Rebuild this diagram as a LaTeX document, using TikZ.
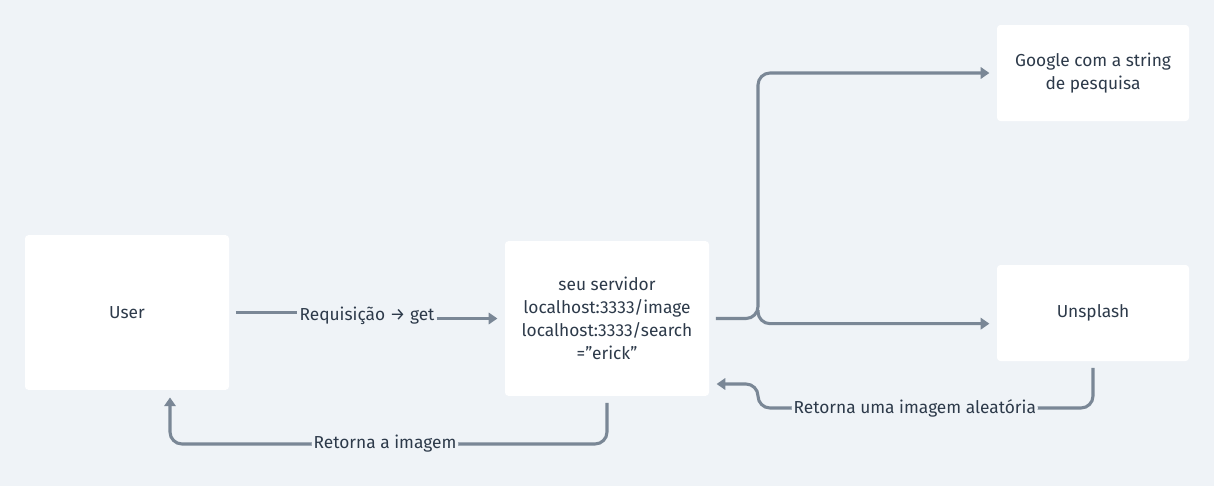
\documentclass[tikz,border=0pt]{standalone}
\usepackage{fontspec}
\setmainfont{Fira Sans}
\usepackage{tikz}
\usetikzlibrary{calc, positioning, arrows.meta}
\definecolor{fundo}{HTML}{EFF3F7}
\definecolor{cinza}{HTML}{7A8796}
\definecolor{texto}{HTML}{2D3A4A}
\tikzset{
	caixa/.style={fill=white, rounded corners=2.5pt, align=center, text=texto, font=\fontsize{13}{17.25}\selectfont},
	linha/.style={cinza, line width=2.3pt, rounded corners=9pt, shorten <=5pt},
	seta/.style={linha, -{Triangle[length=6.5pt, width=8.5pt]}, shorten >=5.5pt},
	rotulo/.style={fill=fundo, text=texto, inner xsep=1.5pt, inner ysep=2pt, font=\fontsize{13}{15}\selectfont}
}
\begin{document}
\begin{tikzpicture}[x=0.75pt, y=-0.75pt]
	%Fundo
	\fill[fundo] (0,0) rectangle (1214,486);
	\useasboundingbox (0,0) rectangle (1214,486);
	
	%Caixas
	\node[caixa, minimum width=153pt, minimum height=116pt] (user) at (127,312.5) {User};
	\node[caixa, minimum width=153pt, minimum height=116pt] (servidor) at (607,318.5) {seu servidor\\localhost:3333/image\\localhost:3333/search\\=''erick''};
	\node[caixa, minimum width=144pt, minimum height=72pt] (google) at (1093,73) {Google com a string\\de pesquisa};
	\node[caixa, minimum width=144pt, minimum height=72pt] (unsplash) at (1093,313) {Unsplash};
	
	%Requisicao
	\node[rotulo] (req) at (367,316) {Requisição → get};
	\draw[linha, shorten >=0pt] (user.east) -- (user.east -| req.west);
	\draw[seta, shorten <=0pt] (req.east |- servidor.west) -- (servidor.west);
	
	%Saidas do servidor
	\coordinate (bif) at (758,318.5);
	\coordinate (bif2) at (758,310);
	\draw[seta] (servidor.east) -- (bif) |- (google.west);
	\draw[seta, shorten <=0pt] (bif2) |- ([yshift=-8pt]unsplash.west);
	
	%Retornos
	\coordinate (volta1) at (758,408);
	\draw[seta] (unsplash.south) |- (volta1) node[rotulo, pos=0.766] {Retorna uma imagem aleatória} |- ($(servidor.east)+(0,65.5)$);
	\coordinate (volta2) at (170,444);
	\draw[seta] (servidor.south) |- (volta2) node[rotulo, pos=0.754] {Retorna a imagem} -- (volta2 |- user.south);
\end{tikzpicture}
\end{document}
